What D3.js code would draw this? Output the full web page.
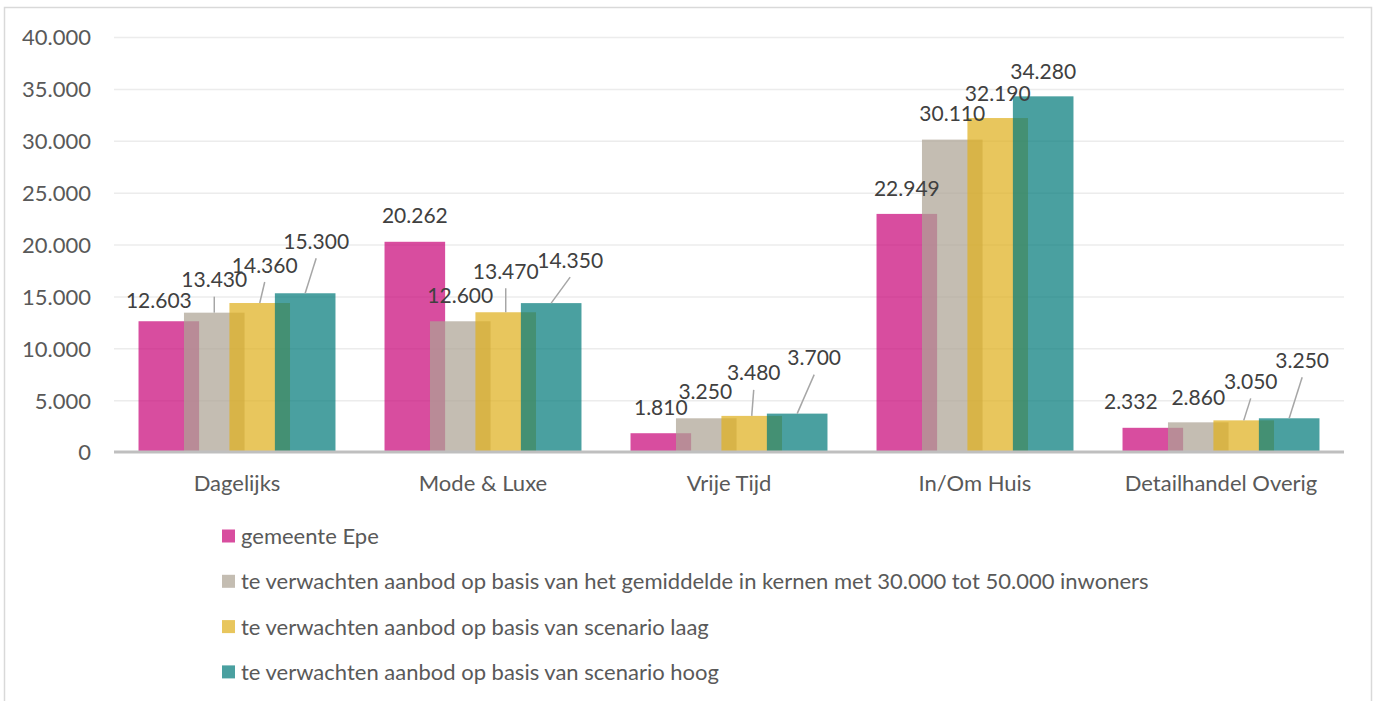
<!DOCTYPE html>
<html>
<head>
<meta charset="utf-8">
<script src="https://cdn.jsdelivr.net/npm/d3@7"></script>
<style>
  html, body { margin: 0; padding: 0; background: #ffffff; }
  svg { display: block; font-family: Lato, "Open Sans", sans-serif; }
</style>
</head>
<body>
<svg id="chart" width="1376" height="701"></svg>
<script>
// Winkelvloeroppervlak per branchegroep
const categories = ["Dagelijks", "Mode & Luxe", "Vrije Tijd", "In/Om Huis", "Detailhandel Overig"];
const seriesNames = [
  "gemeente Epe",
  "te verwachten aanbod op basis van het gemiddelde in kernen met 30.000 tot 50.000 inwoners",
  "te verwachten aanbod op basis van scenario laag",
  "te verwachten aanbod op basis van scenario hoog"
];
const epe        = [12603, 20262, 1810, 22949, 2332];
const gemiddelde = [13430, 12600, 3250, 30110, 2860];
const laag       = [14360, 13470, 3480, 32190, 3050];
const hoog       = [15300, 14350, 3700, 34280, 3250];
const yTicks = [0, 5000, 10000, 15000, 20000, 25000, 30000, 35000, 40000];

const seriesValues = [epe, gemiddelde, laag, hoog];
const seriesColors = ["#c9087a", "#ada394", "#dfb01e", "#047b7b"];

// label nudges [dx, dy] from each bar's top centre, in px
const labelNudge = [
  [[-10, -21], [0, -26], [0, -26], [0, -26], [-22, -26]],
  [[0, -33],   [0, -26], [-1, -27], [0, -26], [0, -25]],
  [[5, -38],   [0, -41], [2, -43], [0, -25], [7, -39]],
  [[11, -52],  [19, -43], [17, -56], [0, -25], [13, -58]]
];

const nl = d3.formatLocale({ decimal: ",", thousands: ".", grouping: [3], currency: ["€", ""] });
const fmt = nl.format(",d");

const svg = d3.select("#chart");

// outer frame
svg.append("rect")
  .attr("x", 4.5).attr("y", 7.5)
  .attr("width", 1367).attr("height", 740)
  .attr("fill", "none").attr("stroke", "#d9d9d9").attr("stroke-width", 1.5);

const plot = { left: 114, right: 1344, top: 37, bottom: 452 };

const x = d3.scaleBand().domain(categories).range([plot.left, plot.right]).padding(0);
const y = d3.scaleLinear().domain([0, 40000]).range([plot.bottom, plot.top]);

// overlapping bars: width w, step 0.75w, group of 4 spans 3.25w
const barW = 60.6;
const barStep = barW * 0.75;
const xs = d3.scaleLinear().domain([0, 3]).range([-1.5 * barStep, 1.5 * barStep]);

// gridlines
const grid = svg.append("g")
  .attr("transform", `translate(${plot.left},0)`)
  .call(d3.axisLeft(y).tickValues(yTicks).tickSize(-(plot.right - plot.left)).tickFormat(""));
grid.select(".domain").remove();
grid.selectAll("line").attr("stroke", "#ececec").attr("stroke-width", 1.5);
grid.selectAll(".tick").filter(d => d === 0).remove();

// y tick labels
const yAxis = svg.append("g")
  .attr("transform", `translate(91,0)`)
  .call(d3.axisLeft(y).tickValues(yTicks).tickSize(0).tickPadding(0).tickFormat(fmt));
yAxis.select(".domain").remove();
yAxis.selectAll("text")
  .attr("dy", "0.36em")
  .attr("font-family", "Lato, sans-serif")
  .attr("font-size", 22).attr("fill", "#595959");

// bars
seriesValues.forEach((vals, s) => {
  svg.append("g").selectAll("rect")
    .data(vals)
    .join("rect")
    .attr("x", (d, i) => x(categories[i]) + x.bandwidth() / 2 + xs(s) - barW / 2)
    .attr("y", d => y(d))
    .attr("width", barW)
    .attr("height", d => y(0) - y(d))
    .attr("fill", seriesColors[s])
    .attr("fill-opacity", 0.72);
});

// baseline
svg.append("line")
  .attr("x1", plot.left).attr("x2", plot.right)
  .attr("y1", y(0)).attr("y2", y(0))
  .attr("stroke", "#bfbfbf").attr("stroke-width", 3);

// category labels
const xAxis = svg.append("g")
  .attr("transform", `translate(0,${y(0)})`)
  .call(d3.axisBottom(x).tickSize(0).tickPadding(0));
xAxis.select(".domain").remove();
xAxis.selectAll("text")
  .attr("dy", 0).attr("y", 38.5)
  .attr("font-family", "Lato, sans-serif")
  .attr("font-size", 22).attr("fill", "#595959");

// data labels with leader lines
const labels = svg.append("g");
seriesValues.forEach((vals, s) => {
  vals.forEach((v, i) => {
    const cx = x(categories[i]) + x.bandwidth() / 2 + xs(s);
    const top = y(v);
    const [dx, dy] = labelNudge[s][i];
    const lx = cx + dx, ly = top + dy;
    if (dy <= -30) {
      labels.append("line")
        .attr("x1", lx).attr("y1", ly + 17)
        .attr("x2", cx).attr("y2", top)
        .attr("stroke", "#a6a6a6").attr("stroke-width", 1.5);
    }
    labels.append("text")
      .attr("x", lx).attr("y", ly + 7.6)
      .attr("text-anchor", "middle")
      .attr("font-size", 21).attr("fill", "#404040")
      .text(fmt(v));
  });
});

// legend
const legend = svg.append("g");
seriesNames.forEach((name, s) => {
  const cy = 536 + s * 45.3;
  legend.append("rect")
    .attr("x", 222).attr("y", cy - 6.5)
    .attr("width", 13).attr("height", 13)
    .attr("fill", seriesColors[s]).attr("fill-opacity", 0.72);
  legend.append("text")
    .attr("x", 241).attr("y", cy + 8)
    .attr("font-size", 22).attr("fill", "#595959")
    .text(name);
});
</script>
</body>
</html>
